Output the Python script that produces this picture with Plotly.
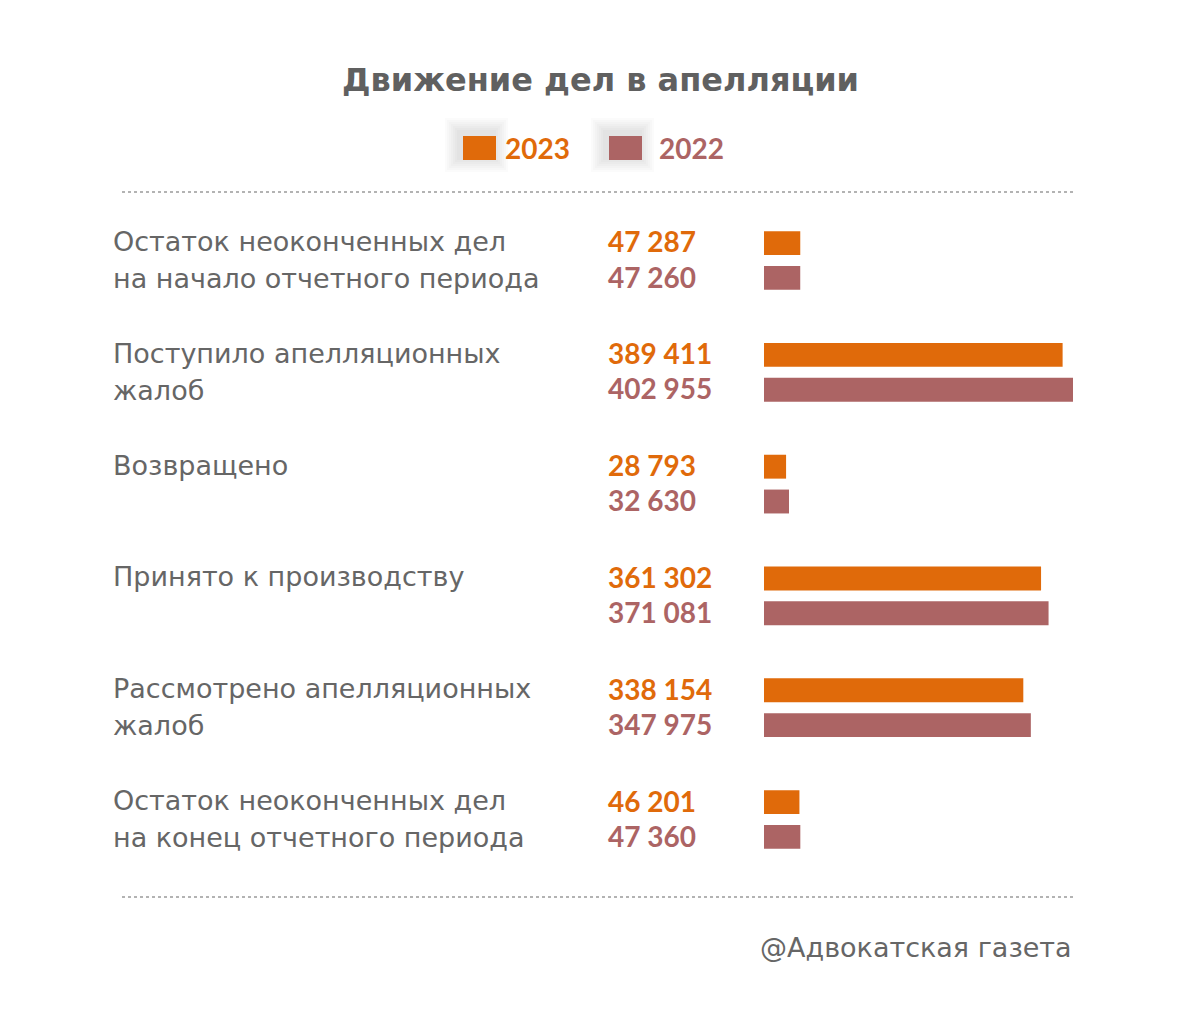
import plotly.graph_objects as go

categories = [
    "Остаток неоконченных дел<br>на начало отчетного периода",
    "Поступило апелляционных<br>жалоб",
    "Возвращено",
    "Принято к производству",
    "Рассмотрено апелляционных<br>жалоб",
    "Остаток неоконченных дел<br>на конец отчетного периода",
]
values_2023 = [47287, 389411, 28793, 361302, 338154, 46201]
values_2022 = [47260, 402955, 32630, 371081, 347975, 47360]
series_names = ["2023", "2022"]

C23 = "#E06A0A"
C22 = "#AC6464"
GRAY = "#666666"
FONT = "Lato"
LFONT = "DejaVu Sans"

W, H = 1200, 1032
OFF = 8  # page body margin

def px_x(x):
    return (x - OFF) / W

def px_y(y):
    return 1 - (y - OFF) / H

fig = go.Figure()
fig.add_trace(go.Bar(y=categories, x=values_2023, orientation="h", name=series_names[0],
                     marker=dict(color=C23, line=dict(width=0)), hoverinfo="x"))
fig.add_trace(go.Bar(y=categories, x=values_2022, orientation="h", name=series_names[1],
                     marker=dict(color=C22, line=dict(width=0)), hoverinfo="x"))

def fmt(v):
    return f"{v:,}".replace(",", " ")

ann = []
for cat, v23, v22 in zip(categories, values_2023, values_2022):
    ann.append(dict(x=px_x(606), xref="paper", y=cat, yref="y", yshift=19, text=fmt(v23),
                    showarrow=False, xanchor="left", yanchor="middle",
                    font=dict(family=FONT, size=28, color=C23, weight="bold")))
    ann.append(dict(x=px_x(606), xref="paper", y=cat, yref="y", yshift=-16, text=fmt(v22),
                    showarrow=False, xanchor="left", yanchor="middle",
                    font=dict(family=FONT, size=28, color=C22, weight="bold")))
    lines = cat.split("<br>")
    shifts = [19, -18] if len(lines) == 2 else [19]
    for ln, s in zip(lines, shifts):
        ann.append(dict(x=px_x(111), xref="paper", y=cat, yref="y", yshift=s, text=ln,
                        showarrow=False, xanchor="left", yanchor="middle",
                        font=dict(family=LFONT, size=27, color=GRAY)))

ann.append(dict(x=px_x(600), xref="paper", y=px_y(80), yref="paper",
                text="<b>Движение дел в апелляции</b>",
                showarrow=False, xanchor="center", yanchor="middle",
                font=dict(family=LFONT, size=32, color="#606060")))
ann.append(dict(x=px_x(503), xref="paper", y=px_y(148), yref="paper", text="<b>2023</b>",
                showarrow=False, xanchor="left", yanchor="middle",
                font=dict(family=FONT, size=28, color=C23)))
ann.append(dict(x=px_x(657), xref="paper", y=px_y(148), yref="paper", text="<b>2022</b>",
                showarrow=False, xanchor="left", yanchor="middle",
                font=dict(family=FONT, size=28, color=C22)))
ann.append(dict(x=px_x(1074), xref="paper", y=px_y(947), yref="paper", text="@Адвокатская газета",
                showarrow=False, xanchor="right", yanchor="middle",
                font=dict(family=LFONT, size=27, color=GRAY)))

shapes = []
for x0, col in [(463, C23), (609, C22)]:
    for k in range(2, 16, 2):
        shapes.append(dict(type="rect", xref="paper", yref="paper",
                           x0=px_x(x0 - 4 - k), x1=px_x(x0 + 33 - 2 + k),
                           y0=px_y(136 - 4 - k), y1=px_y(160 - 2 + k),
                           fillcolor="#000000", opacity=0.015, line=dict(width=0), layer="below"))
    shapes.append(dict(type="rect", xref="paper", yref="paper",
                       x0=px_x(x0), x1=px_x(x0 + 33), y0=px_y(136), y1=px_y(160),
                       fillcolor=col, line=dict(width=0)))
for yy in [192, 897]:
    shapes.append(dict(type="line", xref="paper", yref="paper",
                       x0=px_x(122), x1=px_x(1073), y0=px_y(yy), y1=px_y(yy),
                       line=dict(color="#9a9a9a", width=1.5, dash="dot")))

fig.update_layout(
    width=W, height=H,
    margin=dict(l=0, r=0, t=0, b=0),
    paper_bgcolor="white", plot_bgcolor="white",
    showlegend=False,
    barmode="group", bargap=0.377, bargroupgap=0.314,
    xaxis=dict(domain=[px_x(764), px_x(1073)], range=[0, max(values_2022 + values_2023)],
               visible=False, fixedrange=True),
    yaxis=dict(domain=[px_y(875.4), px_y(204.6)], autorange="reversed", visible=False,
               fixedrange=True),
    annotations=ann, shapes=shapes,
)

fig.write_html("out.html")
